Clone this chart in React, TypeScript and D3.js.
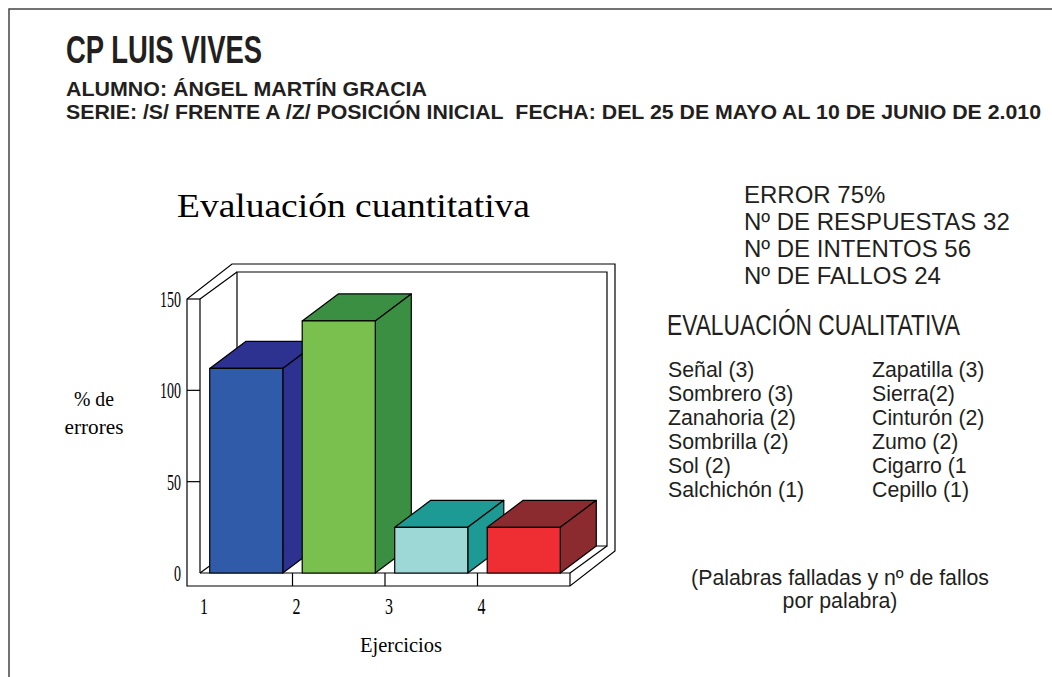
import React from "react";
import * as d3 from "d3";

// datos del gráfico
const ejercicios = ["1", "2", "3", "4"];
const errores = [112, 138, 25, 25];
const yTicks = [0, 50, 100, 150];
const frontColors = ["#2F5BA8", "#79C04F", "#9ED8D6", "#EF2E33"];
const sideColors = ["#2D3190", "#3A8F42", "#1D9A93", "#8C2B2F"];

const resumen = ["ERROR 75%", "Nº DE RESPUESTAS 32", "Nº DE INTENTOS 56", "Nº DE FALLOS 24"];
const palabrasIzq = ["Señal (3)", "Sombrero (3)", "Zanahoria (2)", "Sombrilla (2)", "Sol (2)", "Salchichón (1)"];
const palabrasDer = ["Zapatilla (3)", "Sierra(2)", "Cinturón (2)", "Zumo (2)", "Cigarro (1", "Cepillo (1)"];

const W = 1052;
const H = 677;
const ink = "#231F20";
const serif = "'Liberation Serif', 'Times New Roman', serif";
const sans = "'Liberation Sans', Arial, sans-serif";

export default function App() {
  const left = 200;
  const right = 570;
  const y = d3.scaleLinear().domain([0, 150]).range([573, 299]);
  const cells = d3.scaleBand().domain(ejercicios).range([left, right]);
  const x = d3
    .scaleBand()
    .domain(ejercicios)
    .range([left, right])
    .paddingInner(0.21)
    .paddingOuter(0.105);

  const wall = { dx: 37, dy: -27 }; // profundidad de las paredes
  const bar = { dx: 36, dy: -27 }; // profundidad de las barras
  const thick = 13; // grosor pared izquierda / suelo
  const extra = 8; // grosor pared del fondo

  const y0 = y(0);
  const yTop = y(150);
  const poly = (pts: [number, number][]) => d3.line()(pts) + "Z";

  // silueta de paredes y suelo
  const outline = poly([
    [left - thick, y0 + thick],
    [left - thick, yTop],
    [left - thick + wall.dx + extra, yTop + wall.dy - extra],
    [right + wall.dx + extra, yTop + wall.dy - extra],
    [right + wall.dx + extra, y0 + thick + wall.dy - extra],
    [right, y0 + thick],
  ]);
  const backWall = poly([
    [left + wall.dx, yTop + wall.dy],
    [right + wall.dx, yTop + wall.dy],
    [right + wall.dx, y0 + wall.dy],
    [left + wall.dx, y0 + wall.dy],
  ]);
  const lines: [number, number, number, number][] = [
    [left, yTop, left, y0],
    [left - thick, yTop, left, yTop],
    [left, yTop, left + wall.dx, yTop + wall.dy],
    [left, y0, right, y0],
    [right, y0, right, y0 + thick],
    [left, y0, left + wall.dx, y0 + wall.dy],
    [right, y0, right + wall.dx, y0 + wall.dy],
  ];

  return (
    <svg
      width={W}
      height={H}
      style={{ position: "absolute", left: 0, top: 0, background: "#fff" }}
    >
      {/* marco */}
      <path d={`M9,${H}V9H${W}`} fill="none" stroke="#444" strokeWidth={1.5} />

      {/* cabecera */}
      <text x={66} y={63} fontFamily={sans} fontWeight="bold" fontSize={39} fill={ink}
        textLength={196} lengthAdjust="spacingAndGlyphs">CP LUIS VIVES</text>
      <text x={66} y={96} fontFamily={sans} fontWeight="bold" fontSize={21} fill={ink}
        textLength={361} lengthAdjust="spacingAndGlyphs">ALUMNO: ÁNGEL MARTÍN GRACIA</text>
      <text x={66} y={119} fontFamily={sans} fontWeight="bold" fontSize={21} fill={ink}
        textLength={975} lengthAdjust="spacingAndGlyphs">{"SERIE: /S/ FRENTE A /Z/ POSICIÓN INICIAL\u00A0 FECHA: DEL 25 DE MAYO AL 10 DE JUNIO DE 2.010"}</text>

      {/* título del gráfico */}
      <text x={177} y={217} fontFamily={serif} fontSize={33} fill="#000"
        textLength={353} lengthAdjust="spacingAndGlyphs">Evaluación cuantitativa</text>

      {/* paredes y suelo */}
      <path d={outline} fill="#fff" stroke="#000" strokeWidth={1.2} />
      <path d={backWall} fill="#fff" stroke="#000" strokeWidth={1.2} />
      {lines.map((l, i) => (
        <line key={i} x1={l[0]} y1={l[1]} x2={l[2]} y2={l[3]} stroke="#000" strokeWidth={1.2} />
      ))}
      {ejercicios.slice(1).map((d) => (
        <line key={d} x1={cells(d)} y1={y0} x2={cells(d)} y2={y0 + thick} stroke="#000" strokeWidth={1.2} />
      ))}
      {yTicks.slice(1, -1).map((t) => (
        <line key={t} x1={left - thick} y1={y(t)} x2={left} y2={y(t)} stroke="#000" strokeWidth={1.2} />
      ))}

      {/* barras 3D */}
      {errores.map((v, i) => {
        const bx = x(ejercicios[i])!;
        const bw = x.bandwidth();
        const yt = y(v);
        const top = poly([
          [bx, yt],
          [bx + bar.dx, yt + bar.dy],
          [bx + bw + bar.dx, yt + bar.dy],
          [bx + bw, yt],
        ]);
        const side = poly([
          [bx + bw, yt],
          [bx + bw + bar.dx, yt + bar.dy],
          [bx + bw + bar.dx, y0 + bar.dy],
          [bx + bw, y0],
        ]);
        return (
          <g key={i} stroke="#000" strokeWidth={1.2} strokeLinejoin="round">
            <path d={top} fill={sideColors[i]} />
            <path d={side} fill={sideColors[i]} />
            <rect x={bx} y={yt} width={bw} height={y0 - yt} fill={frontColors[i]} />
          </g>
        );
      })}

      {/* ejes */}
      {yTicks.map((t) => (
        <text key={t} x={181} y={y(t) + 8} textAnchor="end" fontFamily={serif} fontSize={23} fill="#000"
          textLength={String(t).length * 7} lengthAdjust="spacingAndGlyphs">{t}</text>
      ))}
      {ejercicios.map((d) => (
        <text key={d} x={cells(d)! + 4} y={614} textAnchor="middle" fontFamily={serif} fontSize={23} fill="#000"
          textLength={8} lengthAdjust="spacingAndGlyphs">{d}</text>
      ))}
      <text x={401} y={652} textAnchor="middle" fontFamily={serif} fontSize={22} fill="#000"
        textLength={82} lengthAdjust="spacingAndGlyphs">Ejercicios</text>
      <text x={94} y={406} textAnchor="middle" fontFamily={serif} fontSize={21} fill="#000"
        textLength={40} lengthAdjust="spacingAndGlyphs">% de</text>
      <text x={94} y={434} textAnchor="middle" fontFamily={serif} fontSize={21} fill="#000"
        textLength={59} lengthAdjust="spacingAndGlyphs">errores</text>

      {/* resumen */}
      {resumen.map((s, i) => (
        <text key={s} x={744} y={203 + i * 27} fontFamily={sans} fontSize={24} fill={ink}>{s}</text>
      ))}
      <text x={667} y={335} fontFamily={sans} fontSize={29} fill={ink}
        textLength={293} lengthAdjust="spacingAndGlyphs">EVALUACIÓN CUALITATIVA</text>
      {palabrasIzq.map((s, i) => (
        <text key={s} x={668} y={377 + i * 24} fontFamily={sans} fontSize={21.3} fill={ink}>{s}</text>
      ))}
      {palabrasDer.map((s, i) => (
        <text key={s} x={872} y={377 + i * 24} fontFamily={sans} fontSize={21.3} fill={ink}>{s}</text>
      ))}
      <text x={840} y={585} textAnchor="middle" fontFamily={sans} fontSize={21.3} fill={ink}>(Palabras falladas y nº de fallos</text>
      <text x={840} y={608} textAnchor="middle" fontFamily={sans} fontSize={21.3} fill={ink}>por palabra)</text>
    </svg>
  );
}
